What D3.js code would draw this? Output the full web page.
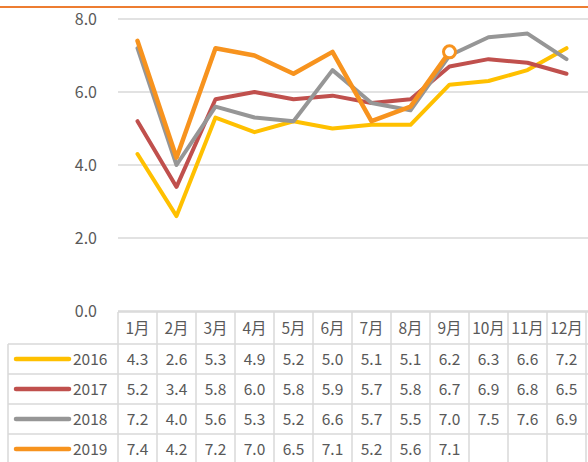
<!DOCTYPE html>
<html><head><meta charset="utf-8">
<script src="https://cdn.jsdelivr.net/npm/d3@7"></script>
<style>body{margin:0;background:#fff;}svg{display:block;font-family:"Noto Sans CJK SC","Open Sans",sans-serif;}</style>
</head><body><svg id="c" width="588" height="462"></svg>
<script>
const months = ["1月","2月","3月","4月","5月","6月","7月","8月","9月","10月","11月","12月"];
const years = ["2016","2017","2018","2019"];
const s2016 = [4.3,2.6,5.3,4.9,5.2,5.0,5.1,5.1,6.2,6.3,6.6,7.2];
const s2017 = [5.2,3.4,5.8,6.0,5.8,5.9,5.7,5.8,6.7,6.9,6.8,6.5];
const s2018 = [7.2,4.0,5.6,5.3,5.2,6.6,5.7,5.5,7.0,7.5,7.6,6.9];
const s2019 = [7.4,4.2,7.2,7.0,6.5,7.1,5.2,5.6,7.1];
const yTicks = [0,2,4,6,8];
const colors = ["#FFC000","#C0504D","#969696","#F7931E"];
const series = [s2016,s2017,s2018,s2019];

const svg = d3.select("#c");
const x = d3.scaleBand().domain(months).range([118,586]);
const y = d3.scaleLinear().domain([0,8]).range([311,19]);
const grid = "#d9d9d9", txt = "#595959";

svg.append("line").attr("x1",0).attr("x2",588).attr("y1",7).attr("y2",7)
  .attr("stroke","#ED7D31").attr("stroke-width",2);

svg.append("g").selectAll("line").data(yTicks).join("line")
  .attr("x1",118).attr("x2",588).attr("y1",d=>y(d)).attr("y2",d=>y(d))
  .attr("stroke",grid).attr("stroke-width",1.5);
svg.append("g").selectAll("text").data(yTicks).join("text")
  .attr("x",97).attr("y",d=>y(d)+6).attr("text-anchor","end")
  .attr("font-size",16).attr("fill",txt).text(d=>d.toFixed(1));

const line = d3.line().x((d,i)=>x(months[i])+x.bandwidth()/2).y(d=>y(d));
series.forEach((s,k)=>{
  svg.append("path").datum(s).attr("d",line).attr("fill","none")
    .attr("stroke",colors[k]).attr("stroke-width",k===3?4.5:4)
    .attr("stroke-linejoin","round").attr("stroke-linecap","round");
});
const li = s2019.length-1;
svg.append("circle").attr("cx",x(months[li])+x.bandwidth()/2).attr("cy",y(s2019[li]))
  .attr("r",6).attr("fill","#fff").attr("stroke",colors[3]).attr("stroke-width",3);

const rowTop = 312, hdrH = 32, rowH = 30;
const tg = svg.append("g");
const legL = 8;
const fs = 15.5;
tg.append("line").attr("x1",118).attr("x2",588).attr("y1",rowTop).attr("y2",rowTop).attr("stroke",grid).attr("stroke-width",1.5);
for(let r=0;r<=years.length;r++){
  const yy = rowTop+hdrH+r*rowH;
  tg.append("line").attr("x1",legL).attr("x2",588).attr("y1",yy).attr("y2",yy).attr("stroke",grid).attr("stroke-width",1.5);
}
const bottom = rowTop+hdrH+years.length*rowH;
tg.append("line").attr("x1",legL).attr("x2",legL).attr("y1",rowTop+hdrH).attr("y2",bottom).attr("stroke",grid).attr("stroke-width",1.5);
months.forEach(m=>{
  tg.append("line").attr("x1",x(m)).attr("x2",x(m)).attr("y1",rowTop).attr("y2",bottom).attr("stroke",grid).attr("stroke-width",1.5);
});
tg.append("line").attr("x1",586).attr("x2",586).attr("y1",rowTop).attr("y2",bottom).attr("stroke",grid).attr("stroke-width",1.5);
tg.selectAll("text.h").data(months).join("text").attr("class","h")
  .attr("x",d=>x(d)+x.bandwidth()/2).attr("y",rowTop+hdrH/2+5.5).attr("text-anchor","middle")
  .attr("font-size",fs).attr("fill",txt).text(d=>d);
years.forEach((yr,r)=>{
  const cy = rowTop+hdrH+r*rowH+rowH/2;
  tg.append("line").attr("x1",16).attr("x2",69).attr("y1",cy).attr("y2",cy)
    .attr("stroke",colors[r]).attr("stroke-width",4.5).attr("stroke-linecap","round");
  tg.append("text").attr("x",73).attr("y",cy+5.5).attr("font-size",fs).attr("fill",txt).text(yr);
  series[r].forEach((v,i)=>{
    tg.append("text").attr("x",x(months[i])+x.bandwidth()/2).attr("y",cy+5.5)
      .attr("text-anchor","middle").attr("font-size",fs).attr("fill",txt).text(v.toFixed(1));
  });
});
</script></body></html>
